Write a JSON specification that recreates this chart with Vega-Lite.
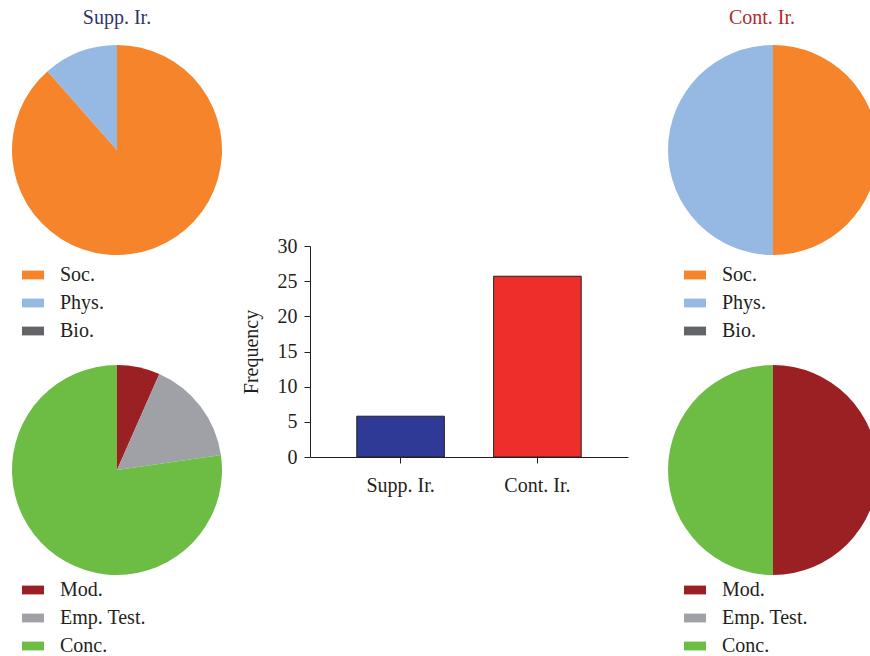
{
  "$schema": "https://vega.github.io/schema/vega-lite/v6.json",
  "padding": {"left": 12, "top": 8, "right": 0, "bottom": 0},
  "config": {
    "view": {"stroke": null},
    "font": "Liberation Serif",
    "title": {"font": "Liberation Serif", "fontSize": 20, "fontWeight": "normal", "baseline": "alphabetic", "offset": 17},
    "axis": {"labelFont": "Liberation Serif", "labelFontSize": 20, "labelColor": "#231f20", "titleFont": "Liberation Serif", "titleFontSize": 20, "titleFontWeight": "normal", "titleColor": "#231f20", "domainColor": "#231f20", "tickColor": "#231f20", "grid": false, "tickSize": 6},
    "legend": {"labelFont": "Liberation Serif", "labelFontSize": 20, "labelColor": "#231f20", "symbolType": "M-1,-0.4H1V0.4H-1Z", "symbolSize": 484, "symbolStrokeWidth": 0, "rowPadding": 7, "labelOffset": 16, "orient": "none", "title": null, "padding": 0}
  },
  "datasets": {
    "supp_topic": [{"cat": "Soc.", "v": 88.5, "o": 1}, {"cat": "Phys.", "v": 11.5, "o": 2}, {"cat": "Bio.", "v": 0, "o": 3}],
    "cont_topic": [{"cat": "Soc.", "v": 50, "o": 1}, {"cat": "Phys.", "v": 50, "o": 2}, {"cat": "Bio.", "v": 0, "o": 3}],
    "supp_method": [{"cat": "Mod.", "v": 6.6, "o": 1}, {"cat": "Emp. Test.", "v": 16.1, "o": 2}, {"cat": "Conc.", "v": 77.3, "o": 3}],
    "cont_method": [{"cat": "Mod.", "v": 50, "o": 1}, {"cat": "Emp. Test.", "v": 0, "o": 2}, {"cat": "Conc.", "v": 50, "o": 3}],
    "freq": [{"group": "Supp. Ir.", "frequency": 5.8}, {"group": "Cont. Ir.", "frequency": 25.7}]
  },
  "resolve": {"scale": {"color": "independent"}, "legend": {"color": "independent"}},
  "spacing": 19,
  "hconcat": [
    {
      "spacing": 24,
      "resolve": {"scale": {"color": "independent"}, "legend": {"color": "independent"}},
      "vconcat": [
        {
          "width": 210, "height": 210,
          "title": {"text": "Supp. Ir.", "color": "#2d3666"},
          "data": {"name": "supp_topic"},
          "mark": {"type": "arc"},
          "encoding": {
            "theta": {"field": "v", "type": "quantitative", "stack": true},
            "order": {"field": "o"},
            "color": {"field": "cat", "type": "nominal", "scale": {"domain": ["Soc.", "Phys.", "Bio."], "range": ["#f5842a", "#95b9e3", "#636467"]}, "legend": {"legendX": 10, "legendY": 219}}
          }
        },
        {
          "width": 210, "height": 210,
          "data": {"name": "supp_method"},
          "mark": {"type": "arc"},
          "encoding": {
            "theta": {"field": "v", "type": "quantitative", "stack": true},
            "order": {"field": "o"},
            "color": {"field": "cat", "type": "nominal", "scale": {"domain": ["Mod.", "Emp. Test.", "Conc."], "range": ["#9b2024", "#9fa1a6", "#6dbd45"]}, "legend": {"legendX": 10, "legendY": 214}}
          }
        }
      ]
    },
    {
      "spacing": 40,
      "resolve": {"scale": {"color": "independent"}, "legend": {"color": "independent"}},
      "hconcat": [
        {
          "spacing": 0,
          "vconcat": [
            {
              "width": 10, "height": 191,
              "data": {"values": []},
              "mark": {"type": "rule", "opacity": 0},
              "encoding": {}
            },
            {
              "width": 318, "height": 211,
              "data": {"name": "freq"},
              "mark": {"type": "bar", "stroke": "#231f20", "strokeWidth": 1},
              "encoding": {
                "x": {"field": "group", "type": "nominal", "sort": ["Supp. Ir.", "Cont. Ir."], "scale": {"paddingInner": 0.36, "paddingOuter": 0.342}, "axis": {"title": null, "labelAngle": 0, "labelPadding": 12}},
                "y": {"field": "frequency", "type": "quantitative", "scale": {"domain": [0, 30]}, "axis": {"title": "Frequency", "values": [0, 5, 10, 15, 20, 25, 30], "labelPadding": 7, "titlePadding": 16}},
                "color": {"field": "group", "type": "nominal", "scale": {"domain": ["Supp. Ir.", "Cont. Ir."], "range": ["#2e3a96", "#ee2e2a"]}, "legend": null}
              }
            }
          ]
        },
        {
          "spacing": 24,
          "resolve": {"scale": {"color": "independent"}, "legend": {"color": "independent"}},
          "vconcat": [
            {
              "width": 210, "height": 210,
              "title": {"text": "Cont. Ir.", "color": "#b22a2e", "dx": -11},
              "data": {"name": "cont_topic"},
              "mark": {"type": "arc"},
              "encoding": {
                "theta": {"field": "v", "type": "quantitative", "stack": true},
                "order": {"field": "o"},
                "color": {"field": "cat", "type": "nominal", "scale": {"domain": ["Soc.", "Phys.", "Bio."], "range": ["#f5842a", "#95b9e3", "#636467"]}, "legend": {"legendX": 16, "legendY": 219}}
              }
            },
            {
              "width": 210, "height": 210,
              "data": {"name": "cont_method"},
              "mark": {"type": "arc"},
              "encoding": {
                "theta": {"field": "v", "type": "quantitative", "stack": true},
                "order": {"field": "o"},
                "color": {"field": "cat", "type": "nominal", "scale": {"domain": ["Mod.", "Emp. Test.", "Conc."], "range": ["#9b2024", "#9fa1a6", "#6dbd45"]}, "legend": {"legendX": 16, "legendY": 214}}
              }
            }
          ]
        }
      ]
    }
  ]
}
